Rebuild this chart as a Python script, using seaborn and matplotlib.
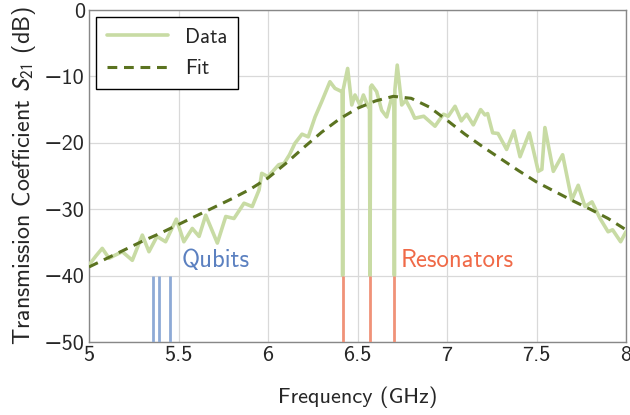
import numpy as np
import pandas as pd
import matplotlib
matplotlib.use("Agg")
import matplotlib.pyplot as plt
import seaborn as sns

# ---- data ----
freq = [5.000, 5.040, 5.074, 5.112, 5.140, 5.186, 5.242, 5.298, 5.335, 5.380,
        5.428, 5.488, 5.530, 5.577, 5.615, 5.652, 5.717, 5.764, 5.810, 5.866,
        5.912, 5.950, 5.965, 6.000, 6.060, 6.090, 6.120, 6.150, 6.190, 6.225,
        6.263, 6.300, 6.346, 6.374, 6.405, 6.414, 6.417, 6.420, 6.445, 6.468,
        6.486, 6.514, 6.533, 6.560, 6.567, 6.570, 6.573, 6.580, 6.607, 6.635,
        6.663, 6.690, 6.703, 6.706, 6.709, 6.722, 6.747, 6.770, 6.800, 6.820,
        6.870, 6.933, 6.980, 7.007, 7.045, 7.080, 7.110, 7.147, 7.188, 7.212,
        7.227, 7.255, 7.285, 7.333, 7.374, 7.408, 7.460, 7.510, 7.530, 7.547,
        7.594, 7.646, 7.697, 7.733, 7.771, 7.810, 7.855, 7.900, 7.925, 7.970,
        8.000]
s21 = [-38.4, -37.0, -35.9, -37.4, -37.0, -36.4, -37.7, -33.9, -36.4, -34.1,
       -34.9, -31.5, -34.9, -32.9, -34.1, -30.9, -35.1, -31.1, -31.4, -29.1,
       -29.6, -27.1, -24.6, -25.1, -23.3, -23.1, -21.8, -20.1, -18.7, -19.1,
       -16.1, -13.8, -10.8, -11.8, -12.2, -12.4, -40.0, -12.0, -8.8, -14.3,
       -12.8, -14.3, -12.8, -14.6, -14.6, -40.0, -11.6, -11.3, -12.3, -15.1,
       -16.1, -13.3, -13.3, -40.0, -12.0, -8.3, -14.3, -13.6, -15.1, -16.3,
       -16.0, -17.5, -15.7, -16.0, -14.5, -16.7, -15.7, -17.3, -15.0, -15.8,
       -15.6, -18.5, -18.6, -21.0, -18.2, -22.1, -18.5, -24.3, -24.0, -17.7,
       -24.3, -21.8, -28.6, -26.4, -29.6, -28.9, -31.4, -33.4, -33.1, -34.9,
       -33.4]

fit_freq = [5.0, 5.1, 5.2, 5.3, 5.4, 5.5, 5.6, 5.7, 5.8, 5.9, 6.0, 6.1, 6.2,
            6.3, 6.4, 6.5, 6.6, 6.7, 6.8, 6.9, 7.0, 7.1, 7.2, 7.3, 7.4, 7.5,
            7.6, 7.7, 7.8, 7.9, 8.0]
fit_s21 = [-38.7, -37.4, -36.1, -34.8, -33.6, -32.3, -31.0, -29.7, -28.4, -27.0,
           -25.3, -23.1, -20.7, -18.4, -16.4, -14.8, -13.7, -13.0, -13.3, -14.6,
           -16.6, -18.7, -20.6, -22.4, -24.2, -25.9, -27.3, -28.7, -30.0, -31.4,
           -33.1]

qubit_freqs = [5.359, 5.393, 5.453]
resonator_freqs = [6.417, 6.570, 6.706]
marker_range = [-50, -40]

x_ticks = [5, 5.5, 6, 6.5, 7, 7.5, 8]
x_ticklabels = ["5", "5.5", "6", "6.5", "7", "7.5", "8"]
y_ticks = [-50, -40, -30, -20, -10, 0]

# ---- style ----
sns.set_style("white")
plt.rcParams['font.family'] = ['cmss10', 'DejaVu Sans']
plt.rcParams['mathtext.fontset'] = 'stixsans'
plt.rcParams['axes.unicode_minus'] = True

c_data = "#c8dba4"
c_fit = "#5b7320"
c_qubit = "#8eaad6"
c_qubit_txt = "#5b80c0"
c_res = "#f09278"
c_res_txt = "#f06a48"

fig = plt.figure(figsize=(6.3, 4.15), dpi=100)
ax = fig.add_axes([89/630, 1-342/415, (626-89)/630, (342-10)/415])

df = pd.DataFrame({"freq": freq, "s21": s21})
dff = pd.DataFrame({"freq": fit_freq, "s21": fit_s21})

sns.lineplot(data=df, x="freq", y="s21", ax=ax, color=c_data, lw=2.6,
             estimator=None, sort=False, label="Data", zorder=3)
sns.lineplot(data=dff, x="freq", y="s21", ax=ax, color=c_fit, lw=2.2,
             estimator=None, sort=False, label="Fit", zorder=4,
             linestyle=(0, (3.2, 2.2)))

ax.vlines(qubit_freqs, marker_range[0], marker_range[1], color=c_qubit, lw=2, zorder=5)
ax.vlines(resonator_freqs, marker_range[0], marker_range[1], color=c_res, lw=2, zorder=5)

ax.text(5.52, -37.8, "Qubits", color=c_qubit_txt, fontsize=17.8, va="center", ha="left")
ax.text(6.743, -37.8, "Resonators", color=c_res_txt, fontsize=17.8, va="center", ha="left")

ax.set_xlim(5, 8)
ax.set_ylim(-50, 0)
ax.set_xticks(x_ticks)
ax.set_xticklabels(x_ticklabels)
ax.set_yticks(y_ticks)
ax.set_yticklabels([f"\u2212{abs(v)}" if v < 0 else str(v) for v in y_ticks])
ax.tick_params(axis="both", direction="in", length=3, width=0.8, color="#555555",
               labelsize=16, pad=3)
ax.grid(True, color="#d9d9d9", lw=0.9)
for s in ax.spines.values():
    s.set_color("#888888")
    s.set_linewidth(1.0)

ax.set_xlabel("Frequency (GHz)", fontsize=16, labelpad=15)
ax.set_ylabel("Transmission Coefficient $S_{21}$ (dB)", fontsize=17.3, labelpad=4)

leg = ax.legend(loc="upper left", fontsize=15, handlelength=2.95, frameon=True,
                fancybox=False, borderaxespad=0.35, borderpad=0.5, labelspacing=0.6,
                handletextpad=0.8)
leg.get_frame().set_edgecolor("black")
leg.get_frame().set_linewidth(1.0)
leg.get_frame().set_alpha(1)

fig.savefig("out.png", dpi=100)
